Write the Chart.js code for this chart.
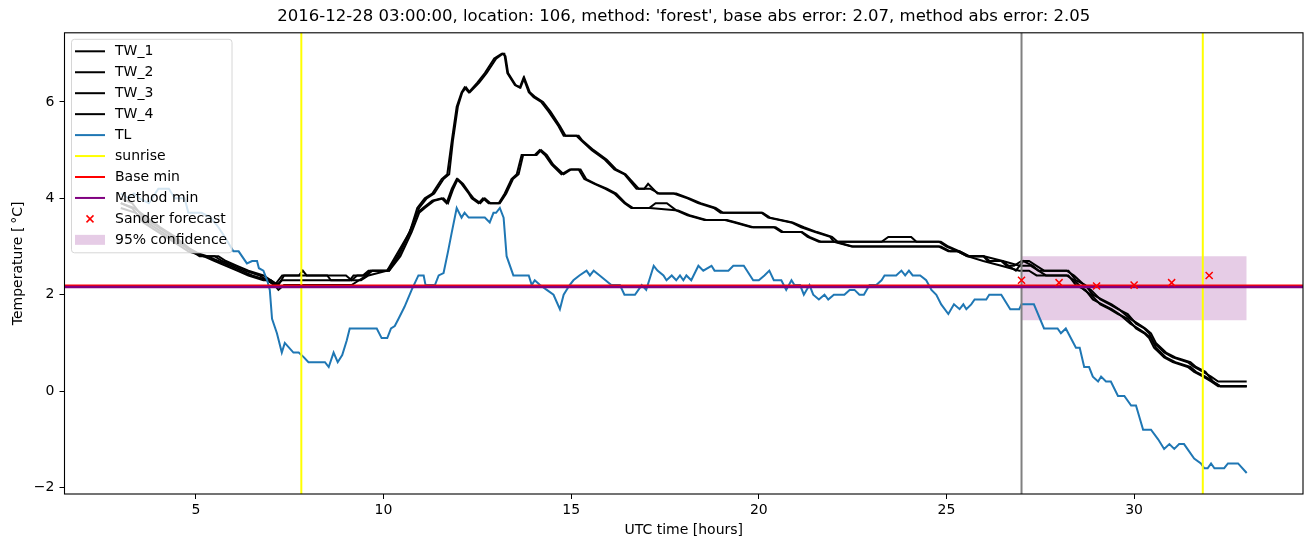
<!DOCTYPE html>
<html>
<head>
<meta charset="utf-8">
<title>Temperature forecast</title>
<script src="https://cdn.jsdelivr.net/npm/chart.js@4.4.1/dist/chart.umd.min.js"></script>
<style>
html, body { margin: 0; padding: 0; background: #ffffff; }
#wrap { width: 1313px; height: 547px; }
</style>
</head>
<body>
<div id="wrap"><canvas id="tempChart" width="1313" height="547"></canvas></div>
<script>

// ---- data ----

var tw1Hours = [3.0,3.3,3.6,4.0,4.4,4.8,5.1,5.5,5.7,6.0,6.3,6.7,6.9,7.1,7.3,7.75,7.85,7.95,9.0,9.15,9.3,9.5,9.65,10.1,10.4,10.7,10.9,11.1,11.3,11.55,11.7,11.82,11.95,12.08,12.16,12.27,12.5,12.7,12.95,13.15,13.22,13.3,13.5,13.63,13.73,13.87,14.0,14.2,14.4,14.66,14.8,15.14,15.27,15.55,15.9,16.15,16.42,16.74,16.95,17.05,17.3,17.73,18.1,18.38,18.8,18.98,20.07,20.25,20.86,21.13,21.5,21.9,22.0,23.27,23.45,23.6,24.06,24.2,24.8,25.0,25.3,25.55,25.98,26.1,26.46,26.6,26.8,27.0,27.2,27.4,27.6,28.2,28.4,28.67,28.85,29.1,29.35,29.57,29.83,30.05,30.27,30.4,30.53,30.8,31.03,31.43,31.6,31.84,32.05,32.24,33.0];
var tw1Temp = [4.0,3.9,3.6,3.4,3.2,2.95,2.8,2.8,2.7,2.6,2.5,2.4,2.3,2.2,2.4,2.4,2.5,2.4,2.4,2.3,2.4,2.4,2.5,2.5,2.9,3.3,3.8,4.0,4.1,4.4,4.5,5.2,5.9,6.2,6.3,6.2,6.4,6.6,6.9,7.0,7.0,6.6,6.35,6.3,6.5,6.2,6.1,6.0,5.8,5.5,5.3,5.3,5.2,5.0,4.8,4.6,4.5,4.2,4.2,4.3,4.1,4.1,4.0,3.9,3.8,3.7,3.7,3.6,3.5,3.4,3.3,3.2,3.1,3.1,3.2,3.2,3.2,3.1,3.1,3.0,2.9,2.8,2.8,2.7,2.7,2.6,2.6,2.7,2.7,2.6,2.5,2.5,2.4,2.2,2.1,1.9,1.8,1.7,1.6,1.4,1.3,1.2,1.0,0.8,0.7,0.6,0.5,0.4,0.3,0.2,0.2];

var tw2Hours = [3.0,3.35,3.7,4.05,4.45,4.85,5.2,5.6,5.8,6.1,6.4,6.8,7.0,7.2,7.35,8.5,8.6,9.1,9.2,9.45,9.6,10.15,10.45,10.75,10.95,11.15,11.35,11.6,11.75,11.85,11.98,12.1,12.2,12.3,12.55,12.75,13.0,13.18,13.25,13.32,13.52,13.65,13.75,13.9,14.05,14.25,14.45,14.7,14.85,15.2,15.3,15.6,15.95,16.2,16.45,16.8,17.1,17.35,17.8,18.15,18.45,18.85,19.05,20.1,20.3,20.9,21.2,21.55,21.95,22.1,23.3,24.25,24.85,25.05,25.35,25.6,26.0,26.15,26.5,26.65,26.85,27.05,27.3,27.45,27.65,28.25,28.45,28.7,28.9,29.15,29.4,29.6,29.9,30.1,30.3,30.45,30.58,30.85,31.1,31.5,31.65,31.9,32.1,32.3,33.0];
var tw2Temp = [3.9,3.8,3.6,3.4,3.2,2.95,2.8,2.8,2.7,2.6,2.5,2.4,2.3,2.2,2.4,2.4,2.3,2.3,2.4,2.4,2.5,2.5,2.9,3.4,3.8,4.0,4.1,4.4,4.5,5.2,5.9,6.2,6.3,6.2,6.4,6.6,6.9,7.0,6.95,6.6,6.35,6.3,6.5,6.2,6.1,6.0,5.8,5.5,5.3,5.3,5.2,5.0,4.8,4.6,4.5,4.2,4.2,4.1,4.1,4.0,3.9,3.8,3.7,3.7,3.6,3.5,3.4,3.3,3.2,3.1,3.1,3.1,3.1,3.0,2.9,2.8,2.8,2.7,2.7,2.6,2.5,2.7,2.6,2.5,2.5,2.5,2.3,2.2,2.0,1.9,1.8,1.7,1.5,1.4,1.3,1.2,1.0,0.8,0.7,0.6,0.5,0.4,0.2,0.1,0.1];

var tw3Hours = [3.0,3.3,3.6,4.0,4.4,4.8,5.2,5.5,5.8,6.1,6.4,6.8,7.0,7.15,7.3,9.2,9.4,9.6,10.1,10.4,10.7,10.9,11.05,11.3,11.55,11.68,11.82,11.95,12.08,12.27,12.35,12.53,12.65,12.8,13.07,13.23,13.41,13.55,13.68,14.03,14.16,14.3,14.48,14.74,14.96,15.2,15.35,15.62,15.9,16.15,16.42,16.6,17.08,17.25,17.55,17.8,18.1,18.55,19.1,19.35,19.8,20.4,20.6,21.13,21.3,21.6,22.0,22.47,23.27,24.8,25.05,25.3,25.55,25.98,26.46,26.94,27.2,27.4,27.6,28.2,28.4,28.67,28.85,29.1,29.35,29.57,29.83,30.05,30.27,30.4,30.53,30.8,31.03,31.43,31.6,31.84,32.05,32.24,33.0];
var tw3Temp = [3.9,3.8,3.5,3.3,3.1,2.9,2.8,2.7,2.6,2.5,2.4,2.3,2.3,2.2,2.3,2.3,2.3,2.4,2.5,2.8,3.3,3.7,3.8,3.95,4.0,3.9,4.2,4.4,4.3,4.1,4.0,3.9,4.0,3.9,3.9,4.1,4.4,4.5,4.9,4.9,5.0,4.9,4.7,4.5,4.6,4.6,4.4,4.3,4.2,4.1,3.9,3.8,3.8,3.9,3.9,3.75,3.65,3.55,3.55,3.5,3.4,3.4,3.3,3.3,3.2,3.1,3.1,3.0,3.0,3.0,2.9,2.9,2.8,2.7,2.6,2.5,2.5,2.4,2.4,2.4,2.3,2.1,2.0,1.8,1.7,1.6,1.5,1.3,1.2,1.1,0.9,0.7,0.6,0.5,0.4,0.3,0.2,0.1,0.1];

var tw4Hours = [3.0,3.4,3.7,4.1,4.5,4.9,5.3,5.6,5.9,6.2,6.5,6.9,7.1,7.2,7.35,9.15,9.35,9.55,9.7,10.15,10.45,10.75,10.95,11.1,11.35,11.6,11.72,11.86,11.98,12.12,12.3,12.4,12.58,12.7,12.85,13.1,13.27,13.45,13.6,13.72,14.08,14.2,14.35,14.52,14.8,15.0,15.25,15.4,15.65,15.95,16.2,16.45,16.65,17.1,17.85,18.15,18.6,19.15,19.4,19.85,20.45,20.65,21.15,21.35,21.65,22.05,22.5,24.85,25.1,25.35,25.6,26.0,26.5,26.95,27.25,27.45,27.65,28.25,28.45,28.7,28.9,29.15,29.4,29.6,29.9,30.1,30.3,30.45,30.58,30.85,31.1,31.5,31.65,31.9,32.1,32.3,33.0];
var tw4Temp = [3.8,3.7,3.5,3.3,3.1,2.9,2.8,2.7,2.6,2.5,2.4,2.3,2.2,2.1,2.2,2.2,2.3,2.4,2.5,2.5,2.8,3.3,3.7,3.8,3.95,4.0,3.9,4.2,4.4,4.3,4.1,4.0,3.9,4.0,3.9,3.9,4.1,4.4,4.5,4.9,4.9,5.0,4.9,4.7,4.5,4.6,4.6,4.4,4.3,4.2,4.1,3.9,3.8,3.8,3.75,3.65,3.55,3.55,3.5,3.4,3.4,3.3,3.3,3.2,3.1,3.1,3.0,3.0,2.9,2.9,2.8,2.8,2.7,2.6,2.6,2.5,2.4,2.4,2.2,2.1,1.9,1.8,1.7,1.6,1.4,1.3,1.2,1.1,0.9,0.7,0.6,0.5,0.4,0.3,0.2,0.1,0.1];

var tlHours = [3.0,3.2,3.35,3.5,3.75,4.0,4.28,4.44,4.7,4.8,5.15,5.4,5.6,5.77,6.0,6.14,6.36,6.5,6.63,6.68,6.8,6.9,6.97,7.03,7.16,7.29,7.37,7.6,7.74,7.88,8.0,8.44,8.54,8.67,8.78,8.9,9.02,9.1,9.82,9.95,10.1,10.2,10.3,10.4,10.56,10.75,10.93,11.07,11.12,11.37,11.47,11.6,11.72,11.82,11.95,12.08,12.16,12.27,12.7,12.83,12.93,13.0,13.1,13.2,13.28,13.46,13.87,13.95,14.03,14.17,14.35,14.53,14.7,14.8,14.96,15.06,15.22,15.41,15.5,15.6,15.76,16.07,16.3,16.42,16.7,16.88,17.0,17.2,17.3,17.46,17.54,17.68,17.8,17.9,17.99,18.07,18.2,18.39,18.52,18.74,18.82,19.19,19.32,19.6,19.85,20.0,20.15,20.28,20.4,20.6,20.73,20.87,20.95,21.1,21.2,21.35,21.45,21.6,21.75,21.85,22.0,22.28,22.42,22.55,22.68,22.8,22.95,23.13,23.27,23.35,23.66,23.8,23.9,24.0,24.1,24.3,24.46,24.6,24.73,24.86,25.05,25.2,25.35,25.45,25.53,25.66,25.75,26.06,26.14,26.46,26.7,26.94,27.0,27.33,27.6,27.96,28.05,28.18,28.45,28.55,28.67,28.8,28.9,29.04,29.12,29.25,29.38,29.57,29.74,29.92,30.05,30.24,30.45,30.64,30.8,30.94,31.07,31.2,31.33,31.6,31.78,31.87,31.96,32.05,32.14,32.4,32.5,32.77,33.0];
var tlTemp = [4.1,4.0,4.1,4.0,3.9,4.2,4.2,4.0,4.0,3.7,3.7,3.6,3.4,3.2,2.9,2.9,2.65,2.7,2.7,2.55,2.5,2.3,2.1,1.5,1.2,0.8,1.0,0.8,0.8,0.7,0.6,0.6,0.5,0.8,0.6,0.75,1.05,1.3,1.3,1.1,1.1,1.3,1.35,1.5,1.75,2.1,2.4,2.4,2.2,2.2,2.4,2.45,2.9,3.3,3.8,3.6,3.7,3.6,3.6,3.5,3.7,3.7,3.8,3.6,2.8,2.4,2.4,2.2,2.3,2.2,2.1,2.0,1.7,2.0,2.2,2.3,2.4,2.5,2.4,2.5,2.4,2.2,2.2,2.0,2.0,2.2,2.1,2.6,2.5,2.4,2.3,2.4,2.3,2.4,2.3,2.4,2.3,2.6,2.5,2.6,2.5,2.5,2.6,2.6,2.3,2.3,2.4,2.5,2.3,2.3,2.1,2.3,2.2,2.2,2.0,2.2,2.0,1.9,2.0,1.9,2.0,2.0,2.1,2.1,2.0,2.0,2.2,2.2,2.3,2.4,2.4,2.5,2.4,2.5,2.4,2.4,2.3,2.1,2.0,1.8,1.6,1.8,1.7,1.8,1.7,1.8,1.9,1.9,2.0,2.0,1.7,1.7,1.8,1.8,1.3,1.3,1.2,1.3,0.9,0.9,0.5,0.5,0.3,0.2,0.3,0.2,0.2,-0.1,-0.1,-0.3,-0.3,-0.8,-0.8,-1.0,-1.2,-1.1,-1.2,-1.1,-1.1,-1.4,-1.5,-1.6,-1.6,-1.5,-1.6,-1.6,-1.5,-1.5,-1.7];

// forecast made at the gray line (27 h), hourly
var forecastHours = [27, 28, 29, 30, 31, 32];
var forecastTemp = [2.3, 2.25, 2.18, 2.2, 2.25, 2.4];
var confHours = [27, 33];
var confLow = 1.47;
var confHigh = 2.8;

var sunriseHours = [7.81, 31.83];
var forecastStart = 27;
var baseMin = 2.19;
var methodMin = 2.16;

var xRange = [1.5, 34.5];
var yRange = [-2.135, 7.435];
var xTicks = [5, 10, 15, 20, 25, 30];
var yTicks = [-2, 0, 2, 4, 6];

var chartTitle = "2016-12-28 03:00:00, location: 106, method: 'forest', base abs error: 2.07, method abs error: 2.05";


function toPoints(xs, ys) {
  var pts = [];
  for (var i = 0; i < xs.length; i++) {
    pts.push({x: xs[i], y: ys[i]});
  }
  return pts;
}

function lineSet(label, pts, color, width, order) {
  return {
    label: label,
    data: pts,
    showLine: true,
    borderColor: color,
    backgroundColor: color,
    borderWidth: width,
    pointRadius: 0,
    pointHoverRadius: 0,
    fill: false,
    order: order
  };
}

// vertical line from bottom to top of the axis
function vline(x) {
  return [{x: x, y: yRange[0]}, {x: x, y: yRange[1]}];
}
function hline(y) {
  return [{x: xRange[0], y: y}, {x: xRange[1], y: y}];
}

var datasets = [];

// confidence band, bottom of the stack
datasets.push({
  label: '95% confidence',
  data: toPoints(confHours, [confHigh, confHigh]),
  showLine: true,
  borderWidth: 0,
  borderColor: 'rgba(0,0,0,0)',
  backgroundColor: 'rgba(128,0,128,0.2)',
  pointRadius: 0,
  fill: {value: confLow},
  order: 20
});

datasets.push(lineSet('TW_1', toPoints(tw1Hours, tw1Temp), '#000000', 2, 19));
datasets.push(lineSet('TW_2', toPoints(tw2Hours, tw2Temp), '#000000', 2, 18));
datasets.push(lineSet('TW_3', toPoints(tw3Hours, tw3Temp), '#000000', 2, 17));
datasets.push(lineSet('TW_4', toPoints(tw4Hours, tw4Temp), '#000000', 2, 16));
datasets.push(lineSet('TL', toPoints(tlHours, tlTemp), '#1f77b4', 2, 15));

for (var s = 0; s < sunriseHours.length; s++) {
  datasets.push(lineSet('sunrise', vline(sunriseHours[s]), '#ffff00', 2, 14));
}
datasets.push(lineSet('now', vline(forecastStart), '#808080', 2, 13));
datasets.push(lineSet('Base min', hline(baseMin), '#ff0000', 2, 12));
datasets.push(lineSet('Method min', hline(methodMin), '#800080', 2.5, 11));

datasets.push({
  label: 'Sander forecast',
  data: toPoints(forecastHours, forecastTemp),
  showLine: false,
  pointStyle: 'crossRot',
  pointRadius: 5,
  pointHoverRadius: 5,
  pointBorderWidth: 1.5,
  borderColor: '#ff0000',
  backgroundColor: '#ff0000',
  order: 1
});


// legend entries, drawn in a box like matplotlib's
var legendEntries = [
  {text: 'TW_1', kind: 'line', color: '#000000'},
  {text: 'TW_2', kind: 'line', color: '#000000'},
  {text: 'TW_3', kind: 'line', color: '#000000'},
  {text: 'TW_4', kind: 'line', color: '#000000'},
  {text: 'TL', kind: 'line', color: '#1f77b4'},
  {text: 'sunrise', kind: 'line', color: '#ffff00'},
  {text: 'Base min', kind: 'line', color: '#ff0000'},
  {text: 'Method min', kind: 'line', color: '#800080'},
  {text: 'Sander forecast', kind: 'cross', color: '#ff0000'},
  {text: '95% confidence', kind: 'patch', color: 'rgba(128,0,128,0.2)'}
];

var boxLegend = {
  id: 'boxLegend',
  afterDraw: function(chart) {
    var ctx = chart.ctx;
    var ca = chart.chartArea;
    var bx = ca.left + 7, by = ca.top + 6.5, bw = 160.5, bh = 213.5, r = 3;
    ctx.save();
    ctx.beginPath();
    ctx.moveTo(bx + r, by);
    ctx.lineTo(bx + bw - r, by);
    ctx.quadraticCurveTo(bx + bw, by, bx + bw, by + r);
    ctx.lineTo(bx + bw, by + bh - r);
    ctx.quadraticCurveTo(bx + bw, by + bh, bx + bw - r, by + bh);
    ctx.lineTo(bx + r, by + bh);
    ctx.quadraticCurveTo(bx, by + bh, bx, by + bh - r);
    ctx.lineTo(bx, by + r);
    ctx.quadraticCurveTo(bx, by, bx + r, by);
    ctx.closePath();
    ctx.fillStyle = 'rgba(255,255,255,0.8)';
    ctx.fill();
    ctx.strokeStyle = '#d6d6d6';
    ctx.lineWidth = 1;
    ctx.stroke();

    ctx.font = '14px "DejaVu Sans"';
    ctx.textBaseline = 'middle';
    ctx.textAlign = 'left';
    for (var i = 0; i < legendEntries.length; i++) {
      var e = legendEntries[i];
      var cy = ca.top + 18.5 + i * 20.95;
      var hx0 = ca.left + 10.5, hx1 = ca.left + 40.5;
      if (e.kind === 'line') {
        ctx.strokeStyle = e.color;
        ctx.lineWidth = 2;
        ctx.beginPath();
        ctx.moveTo(hx0, cy);
        ctx.lineTo(hx1, cy);
        ctx.stroke();
      } else if (e.kind === 'cross') {
        var mx = (hx0 + hx1) / 2, d = 3.5;
        ctx.strokeStyle = e.color;
        ctx.lineWidth = 1.5;
        ctx.beginPath();
        ctx.moveTo(mx - d, cy - d); ctx.lineTo(mx + d, cy + d);
        ctx.moveTo(mx - d, cy + d); ctx.lineTo(mx + d, cy - d);
        ctx.stroke();
      } else {
        ctx.fillStyle = e.color;
        ctx.fillRect(hx0, cy - 5, hx1 - hx0, 10);
      }
      ctx.fillStyle = '#000000';
      ctx.fillText(e.text, ca.left + 50.5, cy + 0.5);
    }
    ctx.restore();
  }
};

// black frame round the axes
var axesFrame = {
  id: 'axesFrame',
  afterDatasetsDraw: function(chart) {
    var ca = chart.chartArea;
    var ctx = chart.ctx;
    ctx.save();
    ctx.strokeStyle = '#000000';
    ctx.lineWidth = 1.1;
    ctx.strokeRect(ca.left, ca.top, ca.right - ca.left, ca.bottom - ca.top);
    ctx.restore();
  }
};

Chart.defaults.font.family = '"DejaVu Sans", sans-serif';
Chart.defaults.color = '#000000';

var ctx = document.getElementById('tempChart').getContext('2d');
var tempChart = new Chart(ctx, {
  type: 'scatter',
  data: {datasets: datasets},
  options: {
    responsive: false,
    animation: false,
    devicePixelRatio: 1,
    layout: {padding: {left: 0, right: 10, top: 0, bottom: 0}},
    plugins: {
      legend: {display: false},
      tooltip: {enabled: false},
      title: {
        display: true,
        fullSize: false,   // centre it over the plot area, not the canvas
        text: chartTitle,
        color: '#000000',
        font: {size: 16.5, weight: 'normal'},
        padding: {top: 7, bottom: 6}
      }
    },
    scales: {
      x: {
        type: 'linear',
        min: xRange[0],
        max: xRange[1],
        afterBuildTicks: function(scale) {
          scale.ticks = xTicks.map(function(v) { return {value: v}; });
        },
        afterFit: function(scale) { scale.height = 53; },
        grid: {drawOnChartArea: false, drawTicks: true, tickLength: 5, color: '#000000', lineWidth: 1},
        border: {display: false},
        ticks: {color: '#000000', font: {size: 14}, padding: 3, maxRotation: 0, autoSkip: false},
        title: {display: true, text: 'UTC time [hours]', color: '#000000', font: {size: 14}, padding: {top: 0, bottom: 8}}
      },
      y: {
        type: 'linear',
        min: yRange[0],
        max: yRange[1],
        afterBuildTicks: function(scale) {
          scale.ticks = yTicks.map(function(v) { return {value: v}; });
        },
        afterFit: function(scale) { scale.width = 64.5; },
        grid: {drawOnChartArea: false, drawTicks: true, tickLength: 5, color: '#000000', lineWidth: 1},
        border: {display: false},
        ticks: {
          color: '#000000',
          font: {size: 14},
          padding: 5,
          autoSkip: false,
          callback: function(v) { return v < 0 ? '\u2212' + Math.abs(v) : String(v); }
        },
        title: {display: true, text: 'Temperature [\u2009\u00B0C]', color: '#000000', font: {size: 14}, padding: {top: 10, bottom: 0}}
      }
    }
  },
  plugins: [axesFrame, boxLegend]
});
</script>
</body>
</html>
